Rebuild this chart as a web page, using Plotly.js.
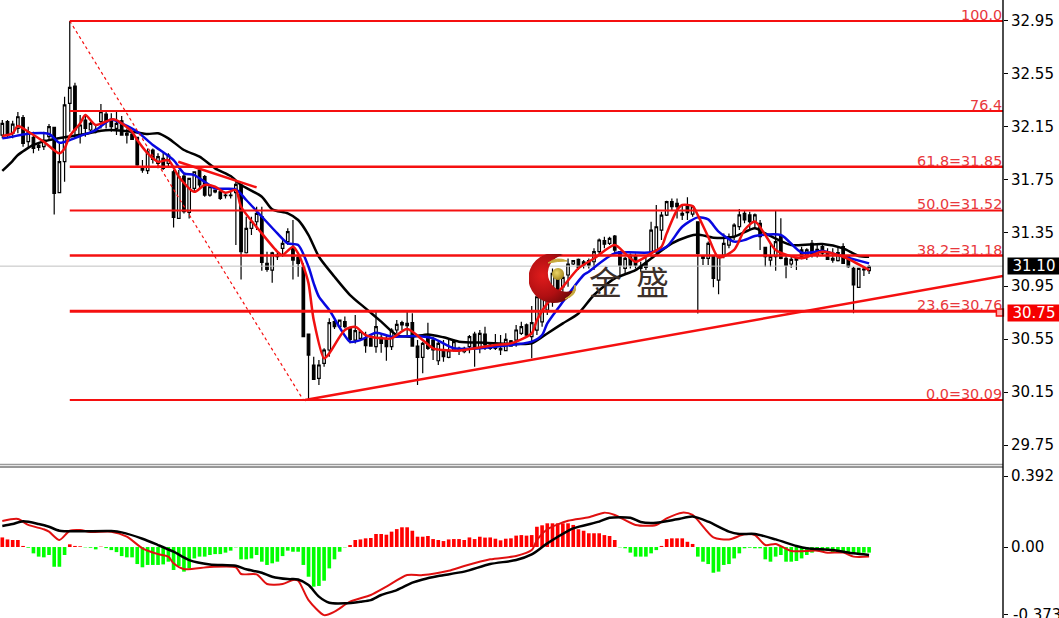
<!DOCTYPE html>
<html><head><meta charset="utf-8">
<script src="https://cdn.plot.ly/plotly-3.0.1.min.js"></script>
<style>html,body{margin:0;padding:0;background:#fff}#c{width:1059px;height:618px}</style>
</head><body><div id="c"></div>
<script>
const opens=[32.089,32.190,32.102,32.139,32.220,32.039,32.072,32.014,32.001,32.077,
32.147,31.654,31.888,32.328,32.459,32.089,32.202,32.127,32.132,32.190,
32.248,32.207,32.139,32.197,32.102,32.097,32.072,31.843,31.820,31.976,
31.875,31.913,31.875,31.812,31.460,31.780,31.505,31.687,31.825,31.775,
31.636,31.674,31.661,31.636,31.636,31.654,31.712,31.201,31.385,31.435,
31.473,31.121,31.070,31.171,31.234,31.285,31.234,31.166,31.091,30.588,
30.354,30.253,30.366,30.467,30.681,30.643,30.681,30.631,30.542,30.555,
30.555,30.555,30.492,30.563,30.555,30.492,30.618,30.673,30.668,30.673,
30.497,30.412,30.568,30.542,30.386,30.467,30.412,30.467,30.480,30.454,
30.492,30.588,30.480,30.588,30.505,30.480,30.480,30.462,30.537,30.542,
30.593,30.656,30.568,30.617,30.680,30.768,30.844,31.015,30.944,31.033,
31.116,31.151,31.133,31.141,31.133,31.209,31.292,31.271,31.327,31.209,
31.083,31.183,31.171,31.100,31.121,31.196,31.221,31.372,31.485,31.586,
31.573,31.498,31.553,31.493,31.435,31.171,31.159,31.171,30.995,31.184,
31.259,31.322,31.398,31.498,31.486,31.435,31.423,31.242,31.146,31.171,
31.322,31.159,31.116,31.146,31.222,31.184,31.272,31.184,31.247,31.209,
31.159,31.141,31.247,31.171,31.083,30.940,31.078,31.066];
const closes=[32.177,32.089,32.172,32.227,32.026,32.114,31.988,31.996,32.051,32.152,
31.649,31.888,32.316,32.449,32.127,32.165,32.139,32.177,32.122,32.265,
32.197,32.152,32.177,32.089,32.089,32.056,31.863,31.825,31.963,31.905,
31.926,31.838,31.938,31.468,31.775,31.511,31.762,31.812,31.712,31.636,
31.699,31.661,31.611,31.631,31.631,31.717,31.209,31.385,31.435,31.498,
31.128,31.075,31.201,31.184,31.272,31.360,31.146,31.121,30.568,30.429,
30.246,30.354,30.467,30.673,30.643,30.693,30.643,30.547,30.613,30.605,
30.500,30.497,30.643,30.517,30.492,30.618,30.661,30.656,30.651,30.497,
30.412,30.517,30.480,30.467,30.517,30.417,30.462,30.530,30.462,30.480,
30.568,30.480,30.593,30.505,30.480,30.512,30.467,30.547,30.497,30.618,
30.643,30.580,30.673,30.869,30.869,30.944,31.045,30.919,31.015,31.116,
31.141,31.090,31.108,31.108,31.209,31.297,31.266,31.309,31.221,31.108,
31.158,31.108,31.108,31.083,31.090,31.372,31.397,31.485,31.586,31.548,
31.548,31.485,31.503,31.548,31.196,31.159,31.272,31.008,31.171,31.272,
31.322,31.410,31.486,31.448,31.435,31.486,31.322,31.171,31.171,31.285,
31.159,31.108,31.151,31.159,31.159,31.222,31.184,31.227,31.197,31.151,
31.146,31.202,31.121,31.096,30.958,31.083,31.071,31.096];
const highs=[32.202,32.202,32.197,32.263,32.240,32.152,32.114,32.026,32.114,32.172,
32.152,32.026,32.378,32.950,32.484,32.240,32.240,32.190,32.165,32.323,
32.265,32.253,32.265,32.233,32.139,32.114,32.077,31.900,31.988,31.988,
31.951,31.963,31.951,31.825,31.825,31.800,31.762,31.812,31.825,31.787,
31.712,31.679,31.674,31.644,31.661,31.750,31.717,31.473,31.473,31.548,
31.548,31.209,31.209,31.209,31.297,31.385,31.448,31.184,31.121,30.588,
30.417,30.392,30.480,30.706,30.693,30.698,30.719,30.643,30.731,30.618,
30.605,30.568,30.756,30.593,30.580,30.631,30.693,30.688,30.756,30.744,
30.542,30.530,30.673,30.568,30.542,30.542,30.542,30.542,30.492,30.492,
30.580,30.605,30.618,30.643,30.517,30.588,30.580,30.593,30.542,30.656,
30.681,30.668,30.799,30.869,30.919,30.995,31.083,31.045,31.045,31.158,
31.146,31.158,31.146,31.158,31.234,31.309,31.322,31.322,31.334,31.214,
31.171,31.196,31.196,31.133,31.171,31.435,31.561,31.510,31.594,31.611,
31.611,31.561,31.619,31.561,31.435,31.184,31.285,31.184,31.184,31.347,
31.347,31.423,31.531,31.524,31.511,31.498,31.448,31.247,31.272,31.516,
31.461,31.184,31.171,31.171,31.247,31.234,31.297,31.259,31.272,31.234,
31.234,31.247,31.272,31.184,31.096,31.083,31.096,31.108];
const lows=[32.064,32.064,32.064,32.102,32.001,31.988,31.951,31.971,31.976,32.051,
31.490,31.654,31.737,32.114,32.064,32.026,32.077,32.102,32.102,32.139,
32.139,32.114,32.089,32.089,32.026,32.051,31.858,31.805,31.795,31.875,
31.838,31.825,31.850,31.392,31.460,31.498,31.460,31.661,31.687,31.624,
31.624,31.649,31.599,31.611,31.611,31.259,31.000,31.196,31.334,31.372,
31.065,31.058,30.975,31.146,31.171,31.259,31.000,31.020,30.568,30.090,
30.241,30.203,30.341,30.417,30.625,30.631,30.631,30.517,30.517,30.542,
30.447,30.492,30.447,30.447,30.386,30.467,30.593,30.618,30.568,30.492,
30.203,30.291,30.467,30.392,30.354,30.379,30.404,30.454,30.429,30.442,
30.442,30.341,30.442,30.467,30.467,30.467,30.429,30.462,30.492,30.492,
30.580,30.568,30.404,30.580,30.643,30.731,30.793,30.869,30.894,30.944,
31.108,31.070,31.083,31.083,31.070,31.183,31.234,31.259,31.196,31.033,
31.033,31.083,31.083,31.058,31.070,31.171,31.196,31.297,31.478,31.523,
31.460,31.448,31.448,31.473,30.743,31.108,31.108,30.940,30.887,31.159,
31.234,31.297,31.373,31.423,31.373,31.385,31.222,31.096,31.096,31.066,
31.151,31.008,31.088,31.071,31.151,31.146,31.166,31.166,31.184,31.146,
31.126,31.134,31.121,31.088,30.744,30.940,31.025,31.041];

const slowX=[0,2,3,6,9,12,16,19,21,25,28,30,32,35,38,41,44,46,50,52,55,57,59,61,64,67,70,73,76,79,82,85,88,93,99,102,105,108,111,114,118,122,125,129,132,134,137,141,145,147,152,158,162,165,167];
const slowY=[31.818,31.895,31.938,32.014,32.051,32.072,32.097,32.122,32.127,32.114,32.097,32.102,32.064,31.976,31.926,31.838,31.780,31.712,31.624,31.528,31.498,31.448,31.334,31.171,31.020,30.882,30.781,30.681,30.580,30.568,30.585,30.563,30.530,30.522,30.512,30.517,30.592,30.668,30.743,30.882,31.007,31.070,31.158,31.271,31.322,31.339,31.315,31.322,31.385,31.347,31.259,31.267,31.234,31.176,31.171];
const midX=[0,2,4,9,11,13,15,18,21,23,26,29,33,35,37,41,45,47,50,53,55,57,59,60,61,63,67,69,72,75,80,83,87,89,95,102,104,105,108,112,113,118,125,128,131,134,136,138,141,143,145,150,154,158,161,167];
const midY=[32.064,32.077,32.094,32.097,32.031,32.051,32.082,32.127,32.207,32.177,32.114,32.014,31.900,31.800,31.787,31.687,31.679,31.599,31.473,31.347,31.272,31.259,31.095,30.970,30.869,30.769,30.530,30.542,30.598,30.568,30.573,30.555,30.480,30.475,30.492,30.530,30.580,30.668,30.831,31.033,31.058,31.196,31.204,31.246,31.397,31.468,31.453,31.360,31.285,31.297,31.327,31.335,31.202,31.214,31.184,31.121];
const fastX=[0,2,3,5,8,11,12,13,15,16,18,21,22,25,26,28,30,32,34,37,39,41,43,45,46,50,53,54,56,57,58,59,60,62,63,66,68,70,73,75,78,81,83,85,88,95,98,102,103,105,108,111,114,118,120,122,125,127,128,130,131,133,134,136,138,141,143,145,147,149,154,158,162,167];
const fastY=[32.082,32.102,32.157,32.114,32.039,31.951,31.988,32.082,32.177,32.240,32.165,32.207,32.202,32.114,32.051,31.951,31.888,31.900,31.775,31.661,31.712,31.699,31.654,31.674,31.548,31.347,31.209,31.184,31.246,31.196,31.100,30.970,30.693,30.404,30.442,30.618,30.643,30.580,30.555,30.555,30.625,30.542,30.480,30.467,30.462,30.505,30.517,30.593,30.693,30.819,30.944,31.083,31.158,31.259,31.196,31.133,31.196,31.246,31.347,31.523,31.561,31.553,31.485,31.322,31.166,31.222,31.373,31.436,31.335,31.222,31.159,31.209,31.171,31.071];

const histValues=[.053,.042,.039,.039,.006,-.004,-.035,-.053,-.057,-.044,-.109,-.109,-.044,.015,.006,.004,-.002,-.004,-.013,.002,
-.006,-.017,-.028,-.050,-.057,-.057,-.094,-.112,-.099,-.099,-.099,-.096,-.081,-.127,-.105,-.136,-.118,-.063,-.053,-.053,
-.044,-.039,-.039,-.031,-.020,-.002,-.068,-.068,-.063,-.044,-.081,-.099,-.090,-.081,-.050,-.020,-.026,-.026,-.099,-.164,
-.219,-.215,-.186,-.118,-.068,-.026,-.002,.011,.039,.042,.048,.050,.072,.072,.068,.085,.099,.109,.109,.090,
.057,.057,.061,.044,.039,.033,.042,.044,.044,.039,.053,.044,.057,.052,.053,.046,.037,.046,.048,.063,
.066,.063,.066,.112,.120,.131,.131,.131,.131,.131,.122,.098,.090,.076,.076,.076,.066,.061,.039,-.002,
-.007,-.031,-.053,-.053,-.053,-.035,-.017,.006,.044,.048,.048,.048,.029,.017,-.053,-.081,-.094,-.142,-.136,-.099,
-.094,-.063,-.035,-.007,-.004,-.007,-.007,-.068,-.081,-.053,-.044,-.081,-.081,-.077,-.063,-.044,-.031,-.017,-.020,-.020,
-.028,-.028,-.031,-.031,-.035,-.035,-.031,-.031];
const signalX=[0,2,4,7,9,11,15,21,23,27,30,33,36,40,45,47,50,52,55,57,59,61,63,66,69,71,73,76,79,81,84,89,94,99,102,105,110,115,117,121,123,126,130,133,136,140,142,145,149,153,155,160,164,167];
const signalY=[.116,.127,.142,.127,.112,.090,.087,.088,.081,.046,.011,-.026,-.072,-.096,-.103,-.123,-.142,-.164,-.177,-.179,-.210,-.274,-.308,-.311,-.302,-.293,-.265,-.238,-.197,-.179,-.160,-.136,-.094,-.072,-.041,.020,.103,.140,.162,.162,.138,.134,.153,.168,.140,.085,.072,.072,.042,.006,-.007,-.017,-.035,-.044];
const macdX=[0,3,5,8,9,11,13,15,17,21,24,27,30,32,33,35,40,45,46,49,51,54,56,57,59,62,64,67,71,74,78,81,86,89,94,99,102,103,105,109,113,116,118,122,126,128,131,133,137,140,143,145,147,149,152,157,159,162,164,167];
const macdY=[.144,.155,.122,.098,.085,.039,.090,.094,.083,.085,.057,-.007,-.039,-.053,-.090,-.122,-.110,-.112,-.149,-.151,-.204,-.204,-.182,-.186,-.293,-.376,-.357,-.302,-.265,-.219,-.155,-.155,-.131,-.105,-.068,-.050,-.017,.039,.098,.145,.164,.190,.177,.122,.122,.158,.190,.177,.053,.042,.070,.066,.011,.017,-.022,-.020,-.031,-.031,-.053,-.053];

const fibPrices=[32.95,32.27,31.85,31.52,31.18,30.76,30.09];
const fibLabels=['100.0','76.4','61.8=31.85','50.0=31.52','38.2=31.18','23.6=30.76','0.0=30.09'];
const fibWidths=[2,2,2.5,2,2.5,3,2];
const priceTicks=[32.95,32.55,32.15,31.75,31.35,30.95,30.55,30.15,29.75];
const macdTicks=[0.392,0,-0.373];
const macdTickText=['0.392','0.00',''];
const lastPrice=31.10, alertPrice=30.75;
const swing={x:[13,58],y:[32.95,30.09]};
const support={x:[58.3,192.8],y:[30.09,31.025]};
const shortTrend={x:[33.9,49],y:[31.888,31.694]};

const idx=opens.map((_,i)=>i);
const RED='#f51010', XMAX=192.8, FONT='"DejaVu Sans",sans-serif';
const ln=(x,y,color,width,dash,yaxis,shape)=>({type:'scatter',mode:'lines',x,y,yaxis:yaxis||'y',hoverinfo:'skip',showlegend:false,
  line:{color,width,dash:dash||'solid',shape:shape||'linear',smoothing:0.7}});

const traces=[
 ln([-1,XMAX],[lastPrice,lastPrice],'#c0c0c0',1),
 {type:'candlestick',x:idx,open:opens,high:highs,low:lows,close:closes,xaxis:'x',yaxis:'y',hoverinfo:'skip',showlegend:false,
  whiskerwidth:0,
  increasing:{line:{color:'#000',width:1.2},fillcolor:'#fff'},
  decreasing:{line:{color:'#000',width:1.2},fillcolor:'#000'}},
 ln(slowX,slowY,'#000',2.5,null,'y','spline'),
 ln(midX,midY,'#0808e0',2.5,null,'y','spline'),
 ln(fastX,fastY,'#f01010',2.5,null,'y','spline'),
 ...fibPrices.map((p,i)=>ln([13,XMAX],[p,p],RED,fibWidths[i])),
 ln(swing.x,swing.y,RED,1.2,'dot'),
 ln(support.x,support.y,RED,2.5),
 ln(shortTrend.x,shortTrend.y,RED,2.5),
 {type:'scatter',mode:'markers',x:[192.2],y:[alertPrice],hoverinfo:'skip',showlegend:false,cliponaxis:false,
  marker:{symbol:'square',size:7,color:'#ffb0b0',line:{color:RED,width:1.5}}},
 {type:'bar',x:idx,y:histValues,yaxis:'y2',width:0.7,hoverinfo:'skip',showlegend:false,
  marker:{color:histValues.map(v=>v>=0?'#ff0000':'#00ff00'),line:{width:0}}},
 ln(macdX,macdY,'#e01010',2,null,'y2','spline'),
 ln(signalX,signalY,'#000',2.5,null,'y2','spline')
];

const logo='data:image/svg+xml;utf8,'+encodeURIComponent(
 '<svg xmlns="http://www.w3.org/2000/svg" width="50" height="50" viewBox="0 0 50 50">'+
 '<defs><radialGradient id="a" cx="0.3" cy="0.45" r="0.7"><stop offset="0" stop-color="#e01c1c"/><stop offset="0.6" stop-color="#b00f12"/><stop offset="1" stop-color="#6e0808"/></radialGradient>'+
 '<radialGradient id="b" cx="0.4" cy="0.4" r="0.7"><stop offset="0" stop-color="#ecd668"/><stop offset="1" stop-color="#9c7e14"/></radialGradient></defs>'+
 '<path d="M34 1A25 25 0 1 0 47 35A18.5 18.5 0 1 1 34 1Z" fill="url(#a)"/>'+
 '<circle cx="29" cy="20" r="6" fill="url(#b)"/>'+
 '<path d="M19 9Q28 2 38 7Q29 7 19 9Z" fill="#c8a93c" stroke="#c8a93c"/>'+
 '<path d="M36 45Q45 40 46 31Q49 41 36 45Z" fill="#c8a93c" stroke="#c8a93c"/></svg>');

const paperY=py=>1-py/618, paperX=px=>px/1003;
const annotations=[
 ...fibPrices.map((p,i)=>({xref:'paper',yref:'y',x:1,y:p,xanchor:'right',yanchor:'bottom',text:fibLabels[i],showarrow:false,
   font:{family:FONT,size:14.4,color:'#e8383c'},borderpad:0,yshift:-3})),
 {xref:'paper',yref:'y',x:paperX(1007),y:lastPrice,xanchor:'left',yanchor:'middle',text:lastPrice.toFixed(2),showarrow:false,
  bgcolor:'#000',width:52,height:16,font:{family:FONT,size:15,color:'#fff'},borderpad:0},
 {xref:'paper',yref:'y',x:paperX(1007),y:alertPrice,xanchor:'left',yanchor:'middle',text:alertPrice.toFixed(2),showarrow:false,
  bgcolor:'#f50000',width:52,height:16,font:{family:FONT,size:15,color:'#fff'},borderpad:0},
 {xref:'paper',yref:'y2',x:paperX(1012),y:-0.373,xanchor:'left',yanchor:'middle',text:'-0.373',showarrow:false,
  font:{family:FONT,size:15,color:'#000'},borderpad:0},
 {xref:'paper',yref:'paper',x:paperX(605),y:paperY(281),text:'金',showarrow:false,font:{family:'"Noto Sans CJK SC"',size:33,color:'#3c302a'}},
 {xref:'paper',yref:'paper',x:paperX(652),y:paperY(281),text:'盛',showarrow:false,font:{family:'"Noto Sans CJK SC"',size:33,color:'#3c302a'}}
];
const shapes=[
 {type:'line',xref:'paper',yref:'paper',x0:0,x1:1,y0:paperY(464.5),y1:paperY(464.5),line:{color:'#9a9a9a',width:1.5}},
 {type:'line',xref:'paper',yref:'paper',x0:0,x1:1,y0:paperY(467),y1:paperY(467),line:{color:'#333',width:1}},
 {type:'line',xref:'paper',yref:'paper',x0:1,x1:1,y0:0,y1:1,line:{color:'#000',width:1.4}}
];
const axisFont={family:FONT,size:15,color:'#000'};
const layout={
 width:1059,height:618,margin:{l:0,r:56,t:0,b:0,pad:0},paper_bgcolor:'#fff',plot_bgcolor:'#fff',showlegend:false,
 barmode:'overlay',
 xaxis:{range:[-0.443,XMAX],visible:false,fixedrange:true,rangeslider:{visible:false},domain:[0,1]},
 yaxis:{domain:[154/618,1],range:[29.607,33.108],side:'right',showgrid:false,zeroline:false,showline:false,
   tickmode:'array',tickvals:priceTicks,ticktext:priceTicks.map(v=>v.toFixed(2)),ticks:'outside',ticklen:4,tickcolor:'#000',tickwidth:1,tickfont:axisFont,fixedrange:true},
 yaxis2:{domain:[0,151/618],range:[-0.392,0.442],side:'right',showgrid:false,zeroline:false,showline:false,anchor:'x',
   tickmode:'array',tickvals:macdTicks,ticktext:macdTickText,ticks:'outside',ticklen:4,tickcolor:'#000',tickwidth:1,tickfont:axisFont,fixedrange:true},
 annotations,shapes,
 images:[{source:logo,xref:'paper',yref:'paper',x:paperX(529),y:paperY(254),sizex:50/1003,sizey:50/618,sizing:'stretch',xanchor:'left',yanchor:'top',layer:'above'}]
};
Plotly.newPlot('c',traces,layout,{displayModeBar:false,staticPlot:true});
</script></body></html>
